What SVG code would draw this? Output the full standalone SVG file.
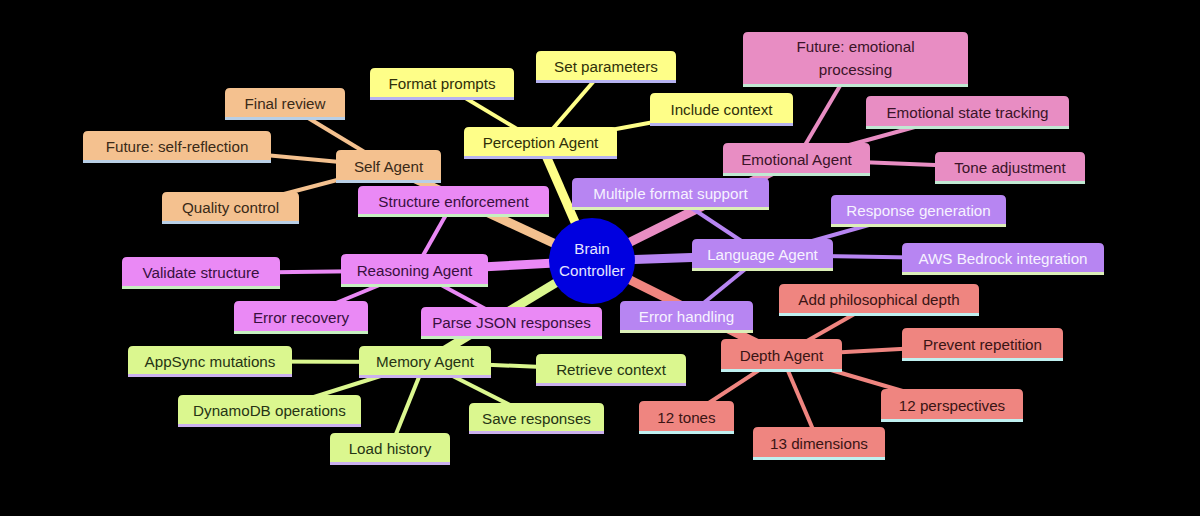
<svg xmlns="http://www.w3.org/2000/svg" width="1200" height="516" viewBox="0 0 1200 516">
<style>
text{font-family:"Liberation Sans",Arial,sans-serif;font-size:15.2px;text-anchor:middle}
.e1{stroke-width:9;fill:none}
.e2{stroke-width:4;fill:none}
.o{fill:#f4c18f}.o-l{stroke:#b9cfe6}.o-t{fill:#3a2a18}.o-e{stroke:#f4c18f}
.y{fill:#fefe88}.y-l{stroke:#b6b2f0}.y-t{fill:#30300a}.y-e{stroke:#fefe88}
.p{fill:#e88dc3}.p-l{stroke:#c0e8d2}.p-t{fill:#3a1428}.p-e{stroke:#e88dc3}
.v{fill:#b785f2}.v-l{stroke:#dcefb8}.v-t{fill:#f6f2ff}.v-e{stroke:#b785f2}
.m{fill:#ea89f5}.m-l{stroke:#c6f0c0}.m-t{fill:#38103e}.m-e{stroke:#ea89f5}
.g{fill:#dbf78f}.g-l{stroke:#cbb0ee}.g-t{fill:#263414}.g-e{stroke:#dbf78f}
.s{fill:#ef8580}.s-l{stroke:#bff0f0}.s-t{fill:#3a1414}.s-e{stroke:#ef8580}
line.nl{stroke-width:3}
</style>
<rect width="1200" height="516" fill="#000"/>
<g id="connectors">
<line class="e1 o-e" x1="592" y1="261" x2="388.5" y2="166.5"/>
<line class="e1 y-e" x1="592" y1="261" x2="540.5" y2="143"/>
<line class="e1 p-e" x1="592" y1="261" x2="796.5" y2="159.5"/>
<line class="e1 v-e" x1="592" y1="261" x2="762.5" y2="255"/>
<line class="e1 m-e" x1="592" y1="261" x2="414.5" y2="270.5"/>
<line class="e1 g-e" x1="592" y1="261" x2="425" y2="362"/>
<line class="e1 s-e" x1="592" y1="261" x2="781.5" y2="355.5"/>
<line class="e2 o-e" x1="388.5" y1="166.5" x2="285" y2="104"/>
<line class="e2 o-e" x1="388.5" y1="166.5" x2="177" y2="147"/>
<line class="e2 o-e" x1="388.5" y1="166.5" x2="230.5" y2="208"/>
<line class="e2 y-e" x1="540.5" y1="143" x2="442" y2="84"/>
<line class="e2 y-e" x1="540.5" y1="143" x2="606" y2="67"/>
<line class="e2 y-e" x1="540.5" y1="143" x2="721.5" y2="109.5"/>
<line class="e2 p-e" x1="796.5" y1="159.5" x2="855.5" y2="59.5"/>
<line class="e2 p-e" x1="796.5" y1="159.5" x2="967.5" y2="112.5"/>
<line class="e2 p-e" x1="796.5" y1="159.5" x2="1010" y2="168"/>
<line class="e2 v-e" x1="762.5" y1="255" x2="670.5" y2="194"/>
<line class="e2 v-e" x1="762.5" y1="255" x2="918.5" y2="211"/>
<line class="e2 v-e" x1="762.5" y1="255" x2="1003" y2="259"/>
<line class="e2 v-e" x1="762.5" y1="255" x2="686.5" y2="317"/>
<line class="e2 m-e" x1="414.5" y1="270.5" x2="453.5" y2="201.5"/>
<line class="e2 m-e" x1="414.5" y1="270.5" x2="201" y2="273"/>
<line class="e2 m-e" x1="414.5" y1="270.5" x2="301" y2="317.5"/>
<line class="e2 m-e" x1="414.5" y1="270.5" x2="511.5" y2="323"/>
<line class="e2 g-e" x1="425" y1="362" x2="210" y2="361.5"/>
<line class="e2 g-e" x1="425" y1="362" x2="269.5" y2="411"/>
<line class="e2 g-e" x1="425" y1="362" x2="390" y2="449"/>
<line class="e2 g-e" x1="425" y1="362" x2="536.5" y2="418.5"/>
<line class="e2 g-e" x1="425" y1="362" x2="611" y2="370"/>
<line class="e2 s-e" x1="781.5" y1="355.5" x2="879" y2="300"/>
<line class="e2 s-e" x1="781.5" y1="355.5" x2="982.5" y2="344.5"/>
<line class="e2 s-e" x1="781.5" y1="355.5" x2="952" y2="405.5"/>
<line class="e2 s-e" x1="781.5" y1="355.5" x2="819" y2="443.5"/>
<line class="e2 s-e" x1="781.5" y1="355.5" x2="686.5" y2="417.5"/>
</g>
<g id="root"><circle cx="592" cy="261" r="43" fill="#0000e0"/><text x="592" y="254" fill="#e4e4ff">Brain</text><text x="592" y="276" fill="#e4e4ff">Controller</text></g>
<!-- Self -->
<g id="self-agent"><path class="o" d="M336,183V155Q336,150 341,150H436Q441,150 441,155V183Z"/><line class="nl o-l" x1="336" y1="181.5" x2="441" y2="181.5"/><text class="o-t" x="388.5" y="172">Self Agent</text></g>
<g id="final-review"><path class="o" d="M225,120V93Q225,88 230,88H340Q345,88 345,93V120Z"/><line class="nl o-l" x1="225" y1="118.5" x2="345" y2="118.5"/><text class="o-t" x="285" y="109">Final review</text></g>
<g id="future-self"><path class="o" d="M83,163V136Q83,131 88,131H266Q271,131 271,136V163Z"/><line class="nl o-l" x1="83" y1="161.5" x2="271" y2="161.5"/><text class="o-t" x="177" y="152">Future: self-reflection</text></g>
<g id="quality-control"><path class="o" d="M162,224V197Q162,192 167,192H294Q299,192 299,197V224Z"/><line class="nl o-l" x1="162" y1="222.5" x2="299" y2="222.5"/><text class="o-t" x="230.5" y="213">Quality control</text></g>
<!-- Perception -->
<g id="perception-agent"><path class="y" d="M464,159V132Q464,127 469,127H612Q617,127 617,132V159Z"/><line class="nl y-l" x1="464" y1="157.5" x2="617" y2="157.5"/><text class="y-t" x="540.5" y="148">Perception Agent</text></g>
<g id="format-prompts"><path class="y" d="M370,100V73Q370,68 375,68H509Q514,68 514,73V100Z"/><line class="nl y-l" x1="370" y1="98.5" x2="514" y2="98.5"/><text class="y-t" x="442" y="89">Format prompts</text></g>
<g id="set-parameters"><path class="y" d="M536,83V56Q536,51 541,51H671Q676,51 676,56V83Z"/><line class="nl y-l" x1="536" y1="81.5" x2="676" y2="81.5"/><text class="y-t" x="606" y="72">Set parameters</text></g>
<g id="include-context"><path class="y" d="M650,126V98Q650,93 655,93H788Q793,93 793,98V126Z"/><line class="nl y-l" x1="650" y1="124.5" x2="793" y2="124.5"/><text class="y-t" x="721.5" y="114.5">Include context</text></g>
<!-- Emotional -->
<g id="emotional-agent"><path class="p" d="M723,176V148Q723,143 728,143H865Q870,143 870,148V176Z"/><line class="nl p-l" x1="723" y1="174.5" x2="870" y2="174.5"/><text class="p-t" x="796.5" y="164.5">Emotional Agent</text></g>
<g id="future-emotional"><path class="p" d="M743,87V37Q743,32 748,32H963Q968,32 968,37V87Z"/><line class="nl p-l" x1="743" y1="85.5" x2="968" y2="85.5"/><text class="p-t" x="855.5" y="52">Future: emotional</text><text class="p-t" x="855.5" y="75">processing</text></g>
<g id="emotional-state"><path class="p" d="M866,129V101Q866,96 871,96H1064Q1069,96 1069,101V129Z"/><line class="nl p-l" x1="866" y1="127.5" x2="1069" y2="127.5"/><text class="p-t" x="967.5" y="117.5">Emotional state tracking</text></g>
<g id="tone-adjustment"><path class="p" d="M935,184V157Q935,152 940,152H1080Q1085,152 1085,157V184Z"/><line class="nl p-l" x1="935" y1="182.5" x2="1085" y2="182.5"/><text class="p-t" x="1010" y="173">Tone adjustment</text></g>
<!-- Language -->
<g id="language-agent"><path class="v" d="M692,271V244Q692,239 697,239H828Q833,239 833,244V271Z"/><line class="nl v-l" x1="692" y1="269.5" x2="833" y2="269.5"/><text class="v-t" x="762.5" y="260">Language Agent</text></g>
<g id="multiple-format"><path class="v" d="M572,210V183Q572,178 577,178H764Q769,178 769,183V210Z"/><line class="nl v-l" x1="572" y1="208.5" x2="769" y2="208.5"/><text class="v-t" x="670.5" y="199">Multiple format support</text></g>
<g id="response-generation"><path class="v" d="M831,227V200Q831,195 836,195H1001Q1006,195 1006,200V227Z"/><line class="nl v-l" x1="831" y1="225.5" x2="1006" y2="225.5"/><text class="v-t" x="918.5" y="216">Response generation</text></g>
<g id="aws-bedrock"><path class="v" d="M902,275V248Q902,243 907,243H1099Q1104,243 1104,248V275Z"/><line class="nl v-l" x1="902" y1="273.5" x2="1104" y2="273.5"/><text class="v-t" x="1003" y="264">AWS Bedrock integration</text></g>
<g id="error-handling"><path class="v" d="M620,333V306Q620,301 625,301H748Q753,301 753,306V333Z"/><line class="nl v-l" x1="620" y1="331.5" x2="753" y2="331.5"/><text class="v-t" x="686.5" y="322">Error handling</text></g>
<!-- Reasoning -->
<g id="reasoning-agent"><path class="m" d="M341,287V259Q341,254 346,254H483Q488,254 488,259V287Z"/><line class="nl m-l" x1="341" y1="285.5" x2="488" y2="285.5"/><text class="m-t" x="414.5" y="275.5">Reasoning Agent</text></g>
<g id="structure-enforcement"><path class="m" d="M358,217V191Q358,186 363,186H544Q549,186 549,191V217Z"/><line class="nl m-l" x1="358" y1="215.5" x2="549" y2="215.5"/><text class="m-t" x="453.5" y="206.5">Structure enforcement</text></g>
<g id="validate-structure"><path class="m" d="M122,289V262Q122,257 127,257H275Q280,257 280,262V289Z"/><line class="nl m-l" x1="122" y1="287.5" x2="280" y2="287.5"/><text class="m-t" x="201" y="278">Validate structure</text></g>
<g id="error-recovery"><path class="m" d="M234,334V306Q234,301 239,301H363Q368,301 368,306V334Z"/><line class="nl m-l" x1="234" y1="332.5" x2="368" y2="332.5"/><text class="m-t" x="301" y="322.5">Error recovery</text></g>
<g id="parse-json"><path class="m" d="M421,339V312Q421,307 426,307H597Q602,307 602,312V339Z"/><line class="nl m-l" x1="421" y1="337.5" x2="602" y2="337.5"/><text class="m-t" x="511.5" y="328">Parse JSON responses</text></g>
<!-- Memory -->
<g id="memory-agent"><path class="g" d="M359,378V351Q359,346 364,346H486Q491,346 491,351V378Z"/><line class="nl g-l" x1="359" y1="376.5" x2="491" y2="376.5"/><text class="g-t" x="425" y="367">Memory Agent</text></g>
<g id="appsync-mutations"><path class="g" d="M128,377V351Q128,346 133,346H287Q292,346 292,351V377Z"/><line class="nl g-l" x1="128" y1="375.5" x2="292" y2="375.5"/><text class="g-t" x="210" y="366.5">AppSync mutations</text></g>
<g id="dynamodb-operations"><path class="g" d="M178,427V400Q178,395 183,395H356Q361,395 361,400V427Z"/><line class="nl g-l" x1="178" y1="425.5" x2="361" y2="425.5"/><text class="g-t" x="269.5" y="416">DynamoDB operations</text></g>
<g id="load-history"><path class="g" d="M330,465V438Q330,433 335,433H445Q450,433 450,438V465Z"/><line class="nl g-l" x1="330" y1="463.5" x2="450" y2="463.5"/><text class="g-t" x="390" y="454">Load history</text></g>
<g id="save-responses"><path class="g" d="M469,434V408Q469,403 474,403H599Q604,403 604,408V434Z"/><line class="nl g-l" x1="469" y1="432.5" x2="604" y2="432.5"/><text class="g-t" x="536.5" y="423.5">Save responses</text></g>
<g id="retrieve-context"><path class="g" d="M536,386V359Q536,354 541,354H681Q686,354 686,359V386Z"/><line class="nl g-l" x1="536" y1="384.5" x2="686" y2="384.5"/><text class="g-t" x="611" y="375">Retrieve context</text></g>
<!-- Depth -->
<g id="depth-agent"><path class="s" d="M721,372V344Q721,339 726,339H837Q842,339 842,344V372Z"/><line class="nl s-l" x1="721" y1="370.5" x2="842" y2="370.5"/><text class="s-t" x="781.5" y="360.5">Depth Agent</text></g>
<g id="add-philosophical"><path class="s" d="M779,316V289Q779,284 784,284H974Q979,284 979,289V316Z"/><line class="nl s-l" x1="779" y1="314.5" x2="979" y2="314.5"/><text class="s-t" x="879" y="305">Add philosophical depth</text></g>
<g id="prevent-repetition"><path class="s" d="M902,361V333Q902,328 907,328H1058Q1063,328 1063,333V361Z"/><line class="nl s-l" x1="902" y1="359.5" x2="1063" y2="359.5"/><text class="s-t" x="982.5" y="349.5">Prevent repetition</text></g>
<g id="perspectives"><path class="s" d="M881,422V394Q881,389 886,389H1018Q1023,389 1023,394V422Z"/><line class="nl s-l" x1="881" y1="420.5" x2="1023" y2="420.5"/><text class="s-t" x="952" y="410.5">12 perspectives</text></g>
<g id="dimensions"><path class="s" d="M753,460V432Q753,427 758,427H880Q885,427 885,432V460Z"/><line class="nl s-l" x1="753" y1="458.5" x2="885" y2="458.5"/><text class="s-t" x="819" y="448.5">13 dimensions</text></g>
<g id="tones"><path class="s" d="M639,434V406Q639,401 644,401H729Q734,401 734,406V434Z"/><line class="nl s-l" x1="639" y1="432.5" x2="734" y2="432.5"/><text class="s-t" x="686.5" y="422.5">12 tones</text></g>
</svg>
